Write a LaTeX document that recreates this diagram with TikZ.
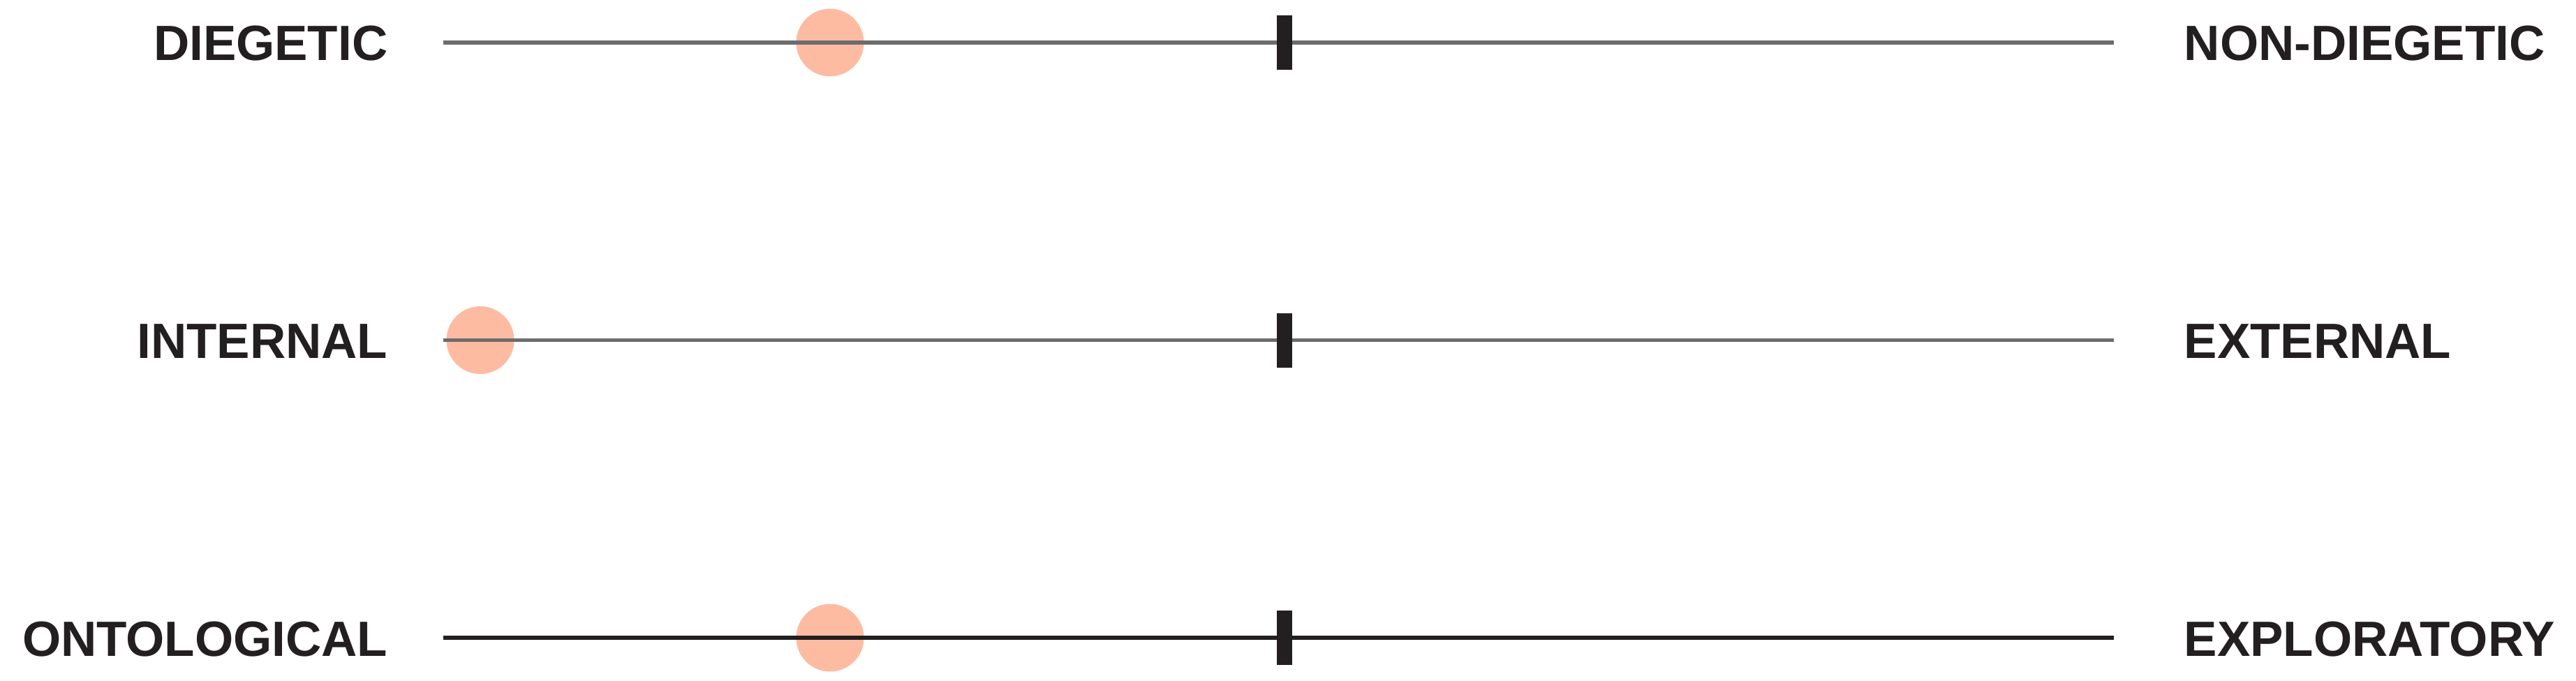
\documentclass[tikz,border=0pt]{standalone}
\usepackage{fontspec}
\setmainfont{Liberation Sans}
\usepackage{tikz}

\definecolor{dotsalmon}{RGB}{253,188,162}
\definecolor{axisgray}{RGB}{108,108,110}
\definecolor{axisblack}{RGB}{35,31,32}

\tikzset{
  pole/.style={font=\fontsize{20.2pt}{24pt}\selectfont\bfseries, inner sep=0pt, text=axisblack},
  marker/.style={circle, fill=dotsalmon, minimum size=0.97cm, inner sep=0pt},
  midtick/.style={rectangle, fill=axisblack, minimum width=0.22cm, minimum height=0.78cm, inner sep=0pt},
  axis/.style={line width=1.7pt}
}

\begin{document}
\begin{tikzpicture}
      \useasboundingbox (0,0) rectangle (36.9,9.75);

      \node[marker] (dot-diegetic)  at (11.89,9.14)  {};
      \node[marker] (dot-internal)  at (6.88,4.875)  {};
      \node[marker] (dot-ontology)  at (11.89,0.61)  {};

      \coordinate (diegetic-l)  at (6.35,9.14);
      \coordinate (diegetic-r)  at (30.28,9.14);
      \coordinate (internal-l)  at (6.35,4.875);
      \coordinate (internal-r)  at (30.28,4.875);
      \coordinate (ontology-l)  at (6.35,0.61);
      \coordinate (ontology-r)  at (30.28,0.61);

      \draw[axis,axisgray]  (diegetic-l) -- (diegetic-r);
      \draw[axis,axisgray]  (internal-l) -- (internal-r);
      \draw[axis,axisblack] (ontology-l) -- (ontology-r);

      \node[midtick] (tick-diegetic) at (18.40,9.14)  {};
      \node[midtick] (tick-internal) at (18.40,4.875) {};
      \node[midtick] (tick-ontology) at (18.40,0.61)  {};

      \node[pole,anchor=base east] (diegetic)     at (5.56,8.88)  {DIEGETIC};
      \node[pole,anchor=base west] (non-diegetic) at (31.28,8.88) {NON-DIEGETIC};
      \node[pole,anchor=base east] (internal)     at (5.56,4.615) {INTERNAL};
      \node[pole,anchor=base west] (external)     at (31.28,4.615) {EXTERNAL};
      \node[pole,anchor=base east] (ontological)  at (5.56,0.35)  {ONTOLOGICAL};
      \node[pole,anchor=base west] (exploratory)  at (31.28,0.35) {EXPLORATORY};
    \end{tikzpicture}
\end{document}
